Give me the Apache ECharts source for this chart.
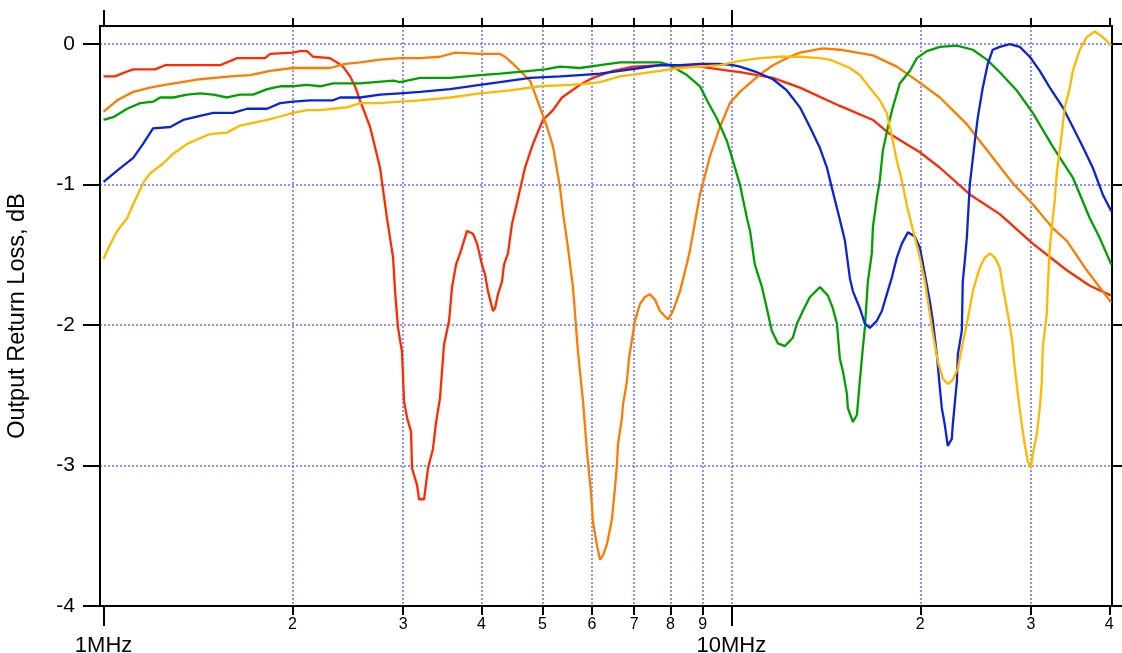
<!DOCTYPE html>
<html><head><meta charset="utf-8">
<script src="https://cdn.jsdelivr.net/npm/echarts@6/dist/echarts.min.js"></script>
<style>html,body{margin:0;padding:0;background:#fff}#c{width:1122px;height:653px}</style>
</head><body><div id="c"></div>
<script>
// Frequency in MHz, output return loss in dB
const red = [[1.000,-0.23],[1.043,-0.23],[1.082,-0.20],[1.115,-0.18],[1.208,-0.18],[1.253,-0.15],[1.533,-0.15],[1.632,-0.10],[1.808,-0.10],[1.842,-0.07],[2.004,-0.06],[2.056,-0.05],[2.109,-0.05],[2.156,-0.09],[2.295,-0.10],[2.354,-0.13],[2.407,-0.16],[2.470,-0.23],[2.515,-0.30],[2.562,-0.40],[2.658,-0.59],[2.757,-0.88],[2.828,-1.24],[2.892,-1.52],[2.913,-1.76],[2.945,-2.02],[2.988,-2.19],[3.010,-2.54],[3.044,-2.66],[3.089,-2.76],[3.100,-3.02],[3.158,-3.14],[3.181,-3.24],[3.240,-3.24],[3.287,-3.02],[3.348,-2.88],[3.386,-2.69],[3.435,-2.52],[3.486,-2.14],[3.551,-1.97],[3.590,-1.73],[3.643,-1.57],[3.710,-1.47],[3.793,-1.33],[3.877,-1.35],[3.935,-1.42],[4.007,-1.57],[4.052,-1.64],[4.096,-1.76],[4.172,-1.90],[4.203,-1.88],[4.249,-1.78],[4.312,-1.69],[4.344,-1.57],[4.408,-1.49],[4.473,-1.28],[4.556,-1.13],[4.692,-0.88],[4.831,-0.71],[5.011,-0.54],[5.199,-0.47],[5.373,-0.38],[5.574,-0.33],[5.740,-0.29],[6.020,-0.24],[6.478,-0.19],[6.971,-0.16],[7.781,-0.15],[8.912,-0.16],[9.948,-0.19],[10.32,-0.20],[11.65,-0.24],[12.86,-0.31],[14.89,-0.44],[16.81,-0.54],[17.89,-0.64],[19.97,-0.77],[21.49,-0.88],[23.98,-1.07],[26.77,-1.21],[30.21,-1.42],[34.23,-1.61],[37.24,-1.72],[40.3,-1.79]];
const orange = [[1.000,-0.48],[1.051,-0.40],[1.115,-0.34],[1.186,-0.31],[1.253,-0.29],[1.425,-0.25],[1.591,-0.23],[1.712,-0.22],[1.842,-0.19],[2.004,-0.17],[2.295,-0.17],[2.425,-0.14],[2.562,-0.13],[2.757,-0.11],[2.967,-0.10],[3.193,-0.10],[3.435,-0.09],[3.630,-0.06],[3.978,-0.07],[4.281,-0.07],[4.360,-0.09],[4.489,-0.14],[4.779,-0.26],[4.957,-0.45],[5.086,-0.59],[5.199,-0.73],[5.334,-1.02],[5.393,-1.20],[5.493,-1.45],[5.594,-1.73],[5.698,-2.19],[5.803,-2.54],[5.889,-2.90],[5.976,-3.19],[6.020,-3.40],[6.109,-3.57],[6.177,-3.67],[6.245,-3.64],[6.337,-3.56],[6.454,-3.38],[6.526,-3.16],[6.574,-2.99],[6.598,-2.85],[6.695,-2.66],[6.720,-2.57],[6.819,-2.40],[6.869,-2.24],[6.971,-2.06],[7.022,-1.97],[7.152,-1.85],[7.285,-1.80],[7.419,-1.78],[7.557,-1.82],[7.697,-1.90],[7.925,-1.96],[8.072,-1.90],[8.282,-1.76],[8.435,-1.62],[8.591,-1.47],[8.912,-1.07],[9.245,-0.80],[9.590,-0.59],[9.948,-0.42],[10.32,-0.34],[10.82,-0.26],[11.23,-0.20],[11.65,-0.15],[12.26,-0.10],[12.86,-0.06],[13.99,-0.03],[14.89,-0.04],[16.81,-0.08],[18.35,-0.16],[19.75,-0.26],[21.49,-0.38],[23.72,-0.57],[25.81,-0.78],[28.08,-0.99],[30.21,-1.14],[32.51,-1.31],[34.23,-1.40],[36.83,-1.61],[40.3,-1.84]];
const green = [[1.000,-0.54],[1.036,-0.52],[1.090,-0.46],[1.144,-0.42],[1.199,-0.41],[1.231,-0.38],[1.291,-0.38],[1.359,-0.36],[1.425,-0.35],[1.495,-0.36],[1.573,-0.38],[1.650,-0.36],[1.731,-0.36],[1.822,-0.32],[1.911,-0.30],[2.004,-0.30],[2.109,-0.29],[2.213,-0.30],[2.321,-0.28],[2.562,-0.28],[2.892,-0.26],[2.967,-0.27],[3.193,-0.24],[3.564,-0.24],[3.978,-0.22],[4.281,-0.21],[4.779,-0.19],[5.049,-0.18],[5.334,-0.16],[5.740,-0.17],[6.177,-0.15],[6.647,-0.13],[7.697,-0.13],[7.984,-0.15],[8.497,-0.22],[8.912,-0.30],[9.144,-0.40],[9.485,-0.53],[9.840,-0.69],[10.06,-0.83],[10.32,-1.00],[10.59,-1.24],[10.71,-1.33],[10.90,-1.57],[11.19,-1.73],[11.39,-1.88],[11.60,-2.04],[11.86,-2.13],[12.17,-2.15],[12.53,-2.09],[12.72,-1.99],[13.00,-1.90],[13.34,-1.80],[13.84,-1.73],[14.25,-1.79],[14.51,-1.88],[14.73,-1.99],[14.89,-2.24],[15.06,-2.33],[15.28,-2.49],[15.33,-2.59],[15.62,-2.69],[15.85,-2.64],[16.02,-2.40],[16.20,-2.16],[16.32,-2.02],[16.50,-1.69],[16.74,-1.49],[16.81,-1.30],[17.05,-1.10],[17.24,-0.97],[17.43,-0.76],[17.76,-0.59],[18.08,-0.45],[18.55,-0.28],[19.25,-0.19],[19.75,-0.10],[20.49,-0.05],[21.49,-0.02],[22.87,-0.01],[24.25,-0.04],[25.53,-0.11],[26.77,-0.20],[28.49,-0.33],[30.21,-0.49],[32.51,-0.73],[34.99,-0.95],[37.24,-1.24],[38.63,-1.38],[40.3,-1.57]];
const blue = [[1.000,-0.98],[1.051,-0.90],[1.115,-0.81],[1.156,-0.71],[1.199,-0.60],[1.277,-0.59],[1.339,-0.54],[1.425,-0.51],[1.495,-0.49],[1.608,-0.49],[1.693,-0.46],[1.822,-0.46],[1.911,-0.42],[2.004,-0.41],[2.133,-0.40],[2.321,-0.40],[2.381,-0.38],[2.562,-0.38],[2.757,-0.36],[2.967,-0.35],[3.193,-0.34],[3.564,-0.32],[3.978,-0.29],[4.281,-0.27],[4.779,-0.24],[5.334,-0.23],[5.740,-0.22],[6.177,-0.21],[6.647,-0.19],[7.152,-0.17],[7.697,-0.15],[8.282,-0.15],[8.912,-0.14],[9.590,-0.14],[10.06,-0.15],[10.32,-0.16],[10.98,-0.20],[11.65,-0.25],[12.26,-0.33],[12.86,-0.45],[13.34,-0.59],[13.84,-0.74],[14.20,-0.88],[14.51,-1.05],[14.89,-1.25],[15.17,-1.40],[15.45,-1.67],[15.62,-1.76],[16.02,-1.88],[16.32,-1.99],[16.62,-2.02],[17.05,-1.97],[17.37,-1.90],[17.69,-1.78],[18.02,-1.66],[18.35,-1.52],[18.69,-1.42],[19.11,-1.34],[19.60,-1.37],[19.97,-1.45],[20.34,-1.64],[20.71,-1.83],[20.94,-1.97],[21.25,-2.21],[21.49,-2.45],[21.64,-2.59],[21.88,-2.71],[22.12,-2.86],[22.45,-2.81],[22.53,-2.71],[22.87,-2.40],[22.95,-2.21],[23.29,-2.04],[23.37,-1.69],[23.55,-1.54],[23.72,-1.38],[23.98,-1.00],[24.43,-0.69],[24.70,-0.52],[25.15,-0.31],[25.62,-0.14],[26.09,-0.04],[26.77,-0.02],[27.77,0.00],[28.81,-0.02],[29.88,-0.09],[31.00,-0.19],[32.16,-0.31],[33.73,-0.45],[34.99,-0.59],[36.29,-0.73],[37.65,-0.88],[39.05,-1.07],[40.3,-1.19]];
const yellow = [[1.000,-1.53],[1.013,-1.47],[1.051,-1.33],[1.090,-1.24],[1.115,-1.14],[1.156,-0.99],[1.186,-0.92],[1.244,-0.85],[1.291,-0.78],[1.359,-0.71],[1.425,-0.67],[1.478,-0.64],[1.573,-0.63],[1.650,-0.58],[1.731,-0.56],[1.822,-0.54],[1.932,-0.51],[2.004,-0.49],[2.109,-0.47],[2.213,-0.47],[2.321,-0.46],[2.443,-0.45],[2.562,-0.42],[2.757,-0.42],[2.967,-0.41],[3.193,-0.40],[3.564,-0.38],[3.978,-0.35],[4.441,-0.33],[4.957,-0.30],[5.533,-0.29],[5.954,-0.28],[6.177,-0.27],[6.647,-0.23],[7.152,-0.21],[7.697,-0.19],[8.282,-0.17],[8.912,-0.16],[9.590,-0.15],[10.32,-0.12],[11.11,-0.10],[11.95,-0.09],[12.86,-0.09],[13.84,-0.10],[14.35,-0.11],[14.89,-0.14],[15.45,-0.17],[16.02,-0.22],[16.62,-0.31],[17.24,-0.40],[17.69,-0.49],[17.89,-0.59],[18.08,-0.69],[18.35,-0.83],[18.69,-0.97],[19.04,-1.15],[19.46,-1.32],[19.97,-1.52],[20.34,-1.69],[20.71,-1.92],[20.94,-2.06],[21.33,-2.26],[21.72,-2.38],[22.12,-2.42],[22.53,-2.39],[22.95,-2.31],[23.29,-2.16],[23.72,-1.99],[23.98,-1.88],[24.25,-1.76],[24.61,-1.66],[24.88,-1.59],[25.34,-1.52],[25.81,-1.49],[26.29,-1.52],[26.77,-1.59],[27.07,-1.73],[27.57,-1.92],[27.98,-2.09],[28.29,-2.31],[28.60,-2.49],[29.02,-2.71],[29.34,-2.85],[29.66,-2.97],[30.00,-3.02],[30.21,-2.92],[30.66,-2.78],[31.00,-2.59],[31.23,-2.40],[31.34,-2.16],[31.81,-1.92],[31.92,-1.73],[32.16,-1.45],[32.39,-1.31],[32.75,-1.11],[32.99,-0.92],[33.60,-0.64],[33.98,-0.45],[34.61,-0.31],[34.99,-0.19],[35.90,-0.04],[36.83,0.05],[37.93,0.09],[39.05,0.05],[40.3,-0.01]];

const majorFreqTicks = [1, 10];
const minorFreqTicks = [2, 3, 4, 5, 6, 7, 8, 9, 20, 30, 40];
const gridFreqs = [2, 3, 4, 5, 6, 7, 8, 9, 10, 20, 30];
const lossTicks = [0, -1, -2, -3, -4];
const gridLoss = [0, -1, -2, -3];
const yTitle = 'Output Return Loss, dB';

const FONT = '"Liberation Sans", Arial, Helvetica, sans-serif';
const xMin = 0.987, xMax = 40.4, yMin = -4, yMax = 0.129;
const BLACK = '#000';
const GRIDC = '#7070ff';

function xBase(pos) {
  return {
    type: 'log', logBase: 10, position: pos, min: xMin, max: xMax, gridIndex: 0,
    axisLine: { show: true, onZero: false, lineStyle: { color: BLACK, width: 2 } },
    axisTick: { show: false },
    axisLabel: { show: false },
    splitLine: { show: false },
    minorTick: { show: false }, minorSplitLine: { show: false }
  };
}
function yBase(pos) {
  return {
    type: 'value', position: pos, min: yMin, max: yMax, gridIndex: 0,
    axisLine: { show: true, onZero: false, lineStyle: { color: BLACK, width: 2 } },
    axisTick: { show: false },
    axisLabel: { show: false },
    splitLine: { show: false }
  };
}

const xAxes = [];
let a;
// bottom major
a = xBase('bottom');
a.axisTick = { show: true, inside: false, length: 20, customValues: majorFreqTicks, lineStyle: { color: BLACK, width: 2 } };
a.axisLabel = { show: true, customValues: majorFreqTicks, formatter: v => v + 'MHz', fontSize: 22, fontFamily: FONT, color: BLACK, margin: 29 };
xAxes.push(a);
// bottom minor
a = xBase('bottom');
a.axisTick = { show: true, inside: false, length: 9, customValues: minorFreqTicks, lineStyle: { color: BLACK, width: 2 } };
a.axisLabel = { show: true, customValues: minorFreqTicks, formatter: v => String(v >= 10 ? Math.round(v / 10) : v), fontSize: 16, fontFamily: FONT, color: BLACK, margin: 11 };
xAxes.push(a);
// grid lines
a = xBase('bottom');
a.axisLine = { show: false, onZero: false };
a.axisTick = { show: false, customValues: gridFreqs };
a.splitLine = { show: true, lineStyle: { color: GRIDC, width: 1.5, type: [2, 2] } };
xAxes.push(a);
// top major
a = xBase('top');
a.axisTick = { show: true, inside: false, length: 16, customValues: majorFreqTicks, lineStyle: { color: BLACK, width: 2 } };
xAxes.push(a);
// top minor
a = xBase('top');
a.axisTick = { show: true, inside: false, length: 8, customValues: minorFreqTicks, lineStyle: { color: BLACK, width: 2 } };
xAxes.push(a);

const yAxes = [];
a = yBase('left');
a.axisTick = { show: true, inside: false, length: 17, customValues: lossTicks, lineStyle: { color: BLACK, width: 2 } };
a.axisLabel = { show: true, customValues: lossTicks, fontSize: 21, fontFamily: FONT, color: BLACK, margin: 25 };
a.name = yTitle; a.nameLocation = 'middle'; a.nameGap = 70;
a.nameTextStyle = { fontSize: 23.5, fontFamily: FONT, color: BLACK };
yAxes.push(a);
a = yBase('right');
a.axisTick = { show: true, inside: false, length: 10, customValues: lossTicks, lineStyle: { color: BLACK, width: 2 } };
yAxes.push(a);
a = yBase('left');
a.axisLine = { show: false, onZero: false };
a.axisTick = { show: false, customValues: gridLoss };
a.splitLine = { show: true, lineStyle: { color: GRIDC, width: 1.5, type: [2, 2] } };
yAxes.push(a);

const seriesDefs = [
  { name: 'A', data: red, color: '#ff2a00' },
  { name: 'B', data: orange, color: '#ff7b00' },
  { name: 'C', data: green, color: '#00a000' },
  { name: 'D', data: blue, color: '#0a24d6' },
  { name: 'E', data: yellow, color: '#ffb700' }
];

const chart = echarts.init(document.getElementById('c'), null, { renderer: 'canvas' });
chart.setOption({
  animation: false,
  backgroundColor: '#fff',
  textStyle: { fontFamily: FONT },
  grid: { left: 100, top: 26, width: 1012, height: 580, containLabel: false, outerBoundsMode: 'none' },
  xAxis: xAxes,
  yAxis: yAxes,
  series: seriesDefs.map(s => ({
    name: s.name, type: 'line', xAxisIndex: 0, yAxisIndex: 0,
    data: s.data, showSymbol: false, symbol: 'none',
    lineStyle: { color: s.color, width: 2.3 }, itemStyle: { color: s.color },
    z: 3
  }))
});
</script>
</body></html>
